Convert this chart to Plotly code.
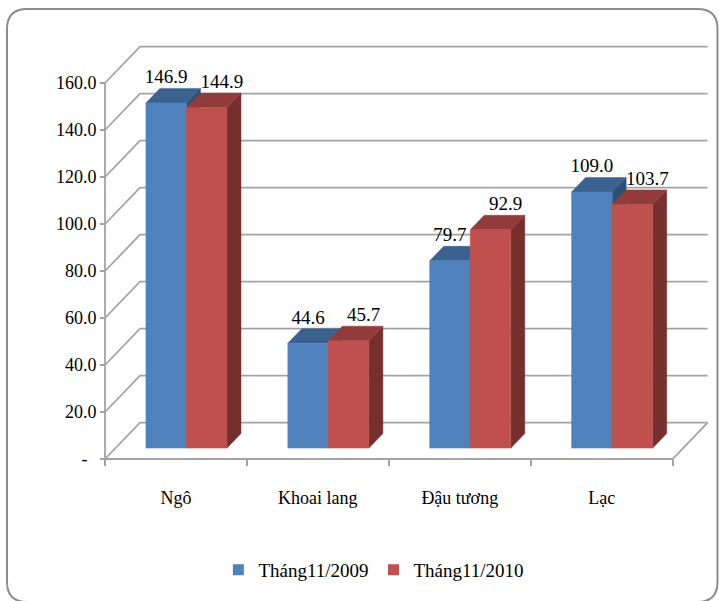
import plotly.graph_objects as go

# ---------------- data ----------------
categories = ["Ngô", "Khoai lang", "Đậu tương", "Lạc"]
series_names = ["Tháng11/2009", "Tháng11/2010"]
values_2009 = [146.9, 44.6, 79.7, 109.0]
values_2010 = [144.9, 45.7, 92.9, 103.7]
y_tick_values = [0, 20, 40, 60, 80, 100, 120, 140, 160]

# ---------------- styling / geometry ----------------
W, H = 719, 601
ORIGIN_X, ORIGIN_Y = 105.0, 459.0      # px of front-left floor corner
CAT_PX = 141.9                           # px per category on front plane
UNIT_PX = 2.35                           # px per value unit
DEPTH_PX_X, DEPTH_PX_Y = 35.0, 36.3      # oblique depth offset (px)
DX = DEPTH_PX_X / CAT_PX                 # depth offset in category units
DY = DEPTH_PX_Y / UNIT_PX                # depth offset in value units
T1, T2 = 0.30, 0.70                      # bar front/back depth fractions
BAR_W = 1 / 3.5                          # gap width 150%
LEAD = 0.75 * BAR_W
N = len(categories)

front_cols = ["#4F81BD", "#C0504D"]
top_cols = ["#3B618F", "#913C3A"]
side_cols = ["#2F4E74", "#772F2D"]
grid_col = "#A3A3A3"
FONT = "Liberation Serif"

xr = [(0 - ORIGIN_X) / CAT_PX, (W - ORIGIN_X) / CAT_PX]
yr = [(ORIGIN_Y - H) / UNIT_PX, ORIGIN_Y / UNIT_PX]

fig = go.Figure()

# back wall gridlines + floor
gx, gy = [], []
for v in y_tick_values:
    gx += [0, DX, N + DX, None]
    gy += [v, v + DY, v + DY, None]
gx += [0, N, N + DX, None, 0, 0]
gy += [0, 0, DY, None, 0, max(y_tick_values)]
fig.add_trace(go.Scatter(x=gx, y=gy, mode="lines", line=dict(color=grid_col, width=1.8),
                         hoverinfo="skip", showlegend=False))


def polys(vals, s, face):
    xs, ys = [], []
    for i, v in enumerate(vals):
        uL = i + LEAD + s * BAR_W
        uR = uL + BAR_W
        if face == "front":
            pts = [(uL + T1 * DX, T1 * DY), (uR + T1 * DX, T1 * DY),
                   (uR + T1 * DX, v + T1 * DY), (uL + T1 * DX, v + T1 * DY)]
        elif face == "top":
            pts = [(uL + T1 * DX, v + T1 * DY), (uR + T1 * DX, v + T1 * DY),
                   (uR + T2 * DX, v + T2 * DY), (uL + T2 * DX, v + T2 * DY)]
        else:
            pts = [(uR + T1 * DX, T1 * DY), (uR + T2 * DX, T2 * DY),
                   (uR + T2 * DX, v + T2 * DY), (uR + T1 * DX, v + T1 * DY)]
        pts.append(pts[0])
        xs += [p[0] for p in pts] + [None]
        ys += [p[1] for p in pts] + [None]
    return xs, ys


for s, vals in enumerate([values_2009, values_2010]):
    for face, col in [("side", side_cols[s]), ("top", top_cols[s]), ("front", front_cols[s])]:
        xs, ys = polys(vals, s, face)
        fig.add_trace(go.Scatter(x=xs, y=ys, mode="lines", fill="toself", fillcolor=col,
                                 line=dict(color=col, width=0.5), hoverinfo="skip",
                                 showlegend=False))

# data labels
for s, vals in enumerate([values_2009, values_2010]):
    lx = [i + LEAD + s * BAR_W + BAR_W / 2 + T1 * DX + s * 0.43 * DX for i in range(N)]
    ly = [v + T1 * DY + 10.4 for v in vals]
    fig.add_trace(go.Scatter(x=lx, y=ly, mode="text", text=[f"{v:.1f}" for v in vals],
                             textposition="middle center",
                             textfont=dict(family=FONT, size=19, color="#000000"),
                             hoverinfo="skip", showlegend=False))

# legend entries
for s, name in enumerate(series_names):
    fig.add_trace(go.Scatter(x=[None], y=[None], mode="markers", name=name,
                             marker=dict(symbol="square", size=11, color=front_cols[s])))

# outer rounded border
def px2paper(x, y):
    return x / W, 1 - y / H

L, R, T, B, RAD = 7, 717.5, 9, 602, 20
def P(x, y):
    px, py = px2paper(x, y)
    return f"{px:.5f},{py:.5f}"
path = (f"M {P(L + RAD, T)} L {P(R - RAD, T)} Q {P(R, T)} {P(R, T + RAD)} "
        f"L {P(R, B - RAD)} Q {P(R, B)} {P(R - RAD, B)} L {P(L + RAD, B)} "
        f"Q {P(L, B)} {P(L, B - RAD)} L {P(L, T + RAD)} Q {P(L, T)} {P(L + RAD, T)} Z")
fig.add_shape(type="path", path=path, xref="paper", yref="paper",
              line=dict(color="#8C8C8C", width=2), layer="below")

ytext = ["-\u00a0\u00a0"] + [f"{v:.1f}" for v in y_tick_values[1:]]

fig.update_layout(
    width=W, height=H,
    margin=dict(l=0, r=0, t=0, b=0),
    paper_bgcolor="white", plot_bgcolor="white",
    font=dict(family=FONT, size=18, color="#000000"),
    xaxis=dict(range=xr, domain=[0, 1], anchor="free", position=(H - ORIGIN_Y) / H,
               tickmode="array", tickvals=[i + 0.5 for i in range(N)], ticktext=categories,
               ticks="outside", ticklen=22, tickcolor="rgba(0,0,0,0)",
               minor=dict(tickmode="array", tickvals=list(range(N + 1)), ticks="outside",
                          ticklen=6, tickcolor=grid_col, tickwidth=1.8),
               showgrid=False, zeroline=False, showline=False, fixedrange=True,
               tickfont=dict(family=FONT, size=18)),
    yaxis=dict(range=yr, domain=[0, 1], anchor="free", position=ORIGIN_X / W, side="left",
               tickmode="array", tickvals=y_tick_values, ticktext=ytext,
               ticks="outside", ticklen=5, tickcolor=grid_col, tickwidth=1.8,
               showgrid=False, zeroline=False, showline=False, fixedrange=True,
               tickfont=dict(family=FONT, size=18)),
    showlegend=True,
    legend=dict(orientation="h", x=0.52, xanchor="center", y=(H - 570) / H, yanchor="middle",
                font=dict(family=FONT, size=19), bgcolor="rgba(0,0,0,0)"),
)

fig.write_html("out.html")
